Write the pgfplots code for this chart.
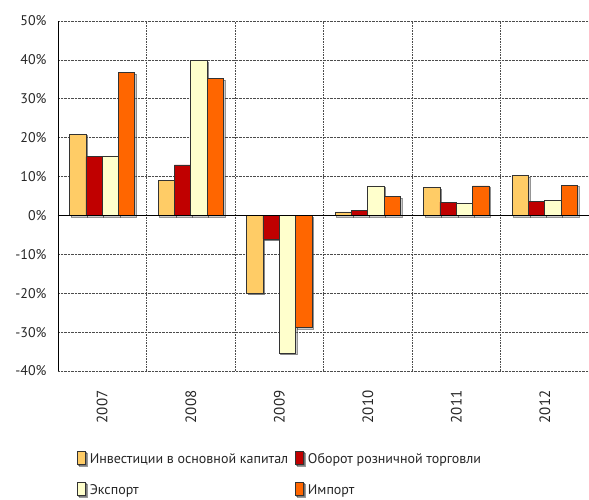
\documentclass[border=0pt]{standalone}
\usepackage{pgfplots}
\pgfplotsset{compat=1.18}
\usepackage{fontspec}
\setmainfont{PT Sans}
\usetikzlibrary{shadows}
\definecolor{cInv}{HTML}{FFCC66}
\definecolor{cRet}{HTML}{C00000}
\definecolor{cExp}{HTML}{FFFFCC}
\definecolor{cImp}{HTML}{FF6600}
\begin{document}
\begin{tikzpicture}
\begin{axis}[
  name=ax,
  scale only axis,
  width=531pt, height=350pt,
  xmin=-0.5, xmax=5.5,
  ymin=-40, ymax=50,
  ytick={-40,-30,...,50},
  yticklabel={\pgfmathprintnumber{\tick}\%},
  /pgf/number format/assume math mode=true,
  xtick={0,...,5},
  xticklabels={2007,2008,2009,2010,2011,2012},
  xticklabel style={rotate=90, anchor=east, font=\fontsize{15}{17}\selectfont},
  xticklabel shift=16pt,
  yticklabel shift=8pt,
  minor xtick={0.5,1.5,...,4.5},
  xminorgrids, ymajorgrids,
  grid style={densely dotted, black!70, line width=0.6pt},
  minor grid style={densely dotted, black!70, line width=0.6pt},
  major tick length=0pt, minor tick length=0pt,
  axis line style={draw=none},
  tick label style={font=\fontsize{14}{16}\selectfont, text=black!85},
  ybar=0pt, bar width=16.3pt,
  every axis plot/.append style={draw=black!80, line width=0.7pt, drop shadow={shadow xshift=1.6pt, shadow yshift=-1.6pt, fill=black!40, opacity=0.5}},
  legend columns=2,
  legend style={at={(0.03,-0.222)}, anchor=north west, draw=none, fill=none,
    font=\fontsize{14}{16}\selectfont, text=black!85,
    /tikz/every even column/.append style={column sep=5pt},
    row sep=15pt},
  legend cell align=left,
  legend image code/.code={\draw[#1, drop shadow={shadow xshift=1pt, shadow yshift=-1pt, fill=black!40}] (0pt,-5pt) rectangle (8pt,8pt);},
  clip=false,
]
\addplot[fill=cInv] coordinates {(0,20.9) (1,9.0) (2,-20.0) (3,0.9) (4,7.2) (5,10.3)};
\addplot[fill=cRet] coordinates {(0,15.1) (1,13.0) (2,-6.1) (3,1.3) (4,3.4) (5,3.7)};
\addplot[fill=cExp] coordinates {(0,15.3) (1,39.9) (2,-35.4) (3,7.6) (4,3.1) (5,3.9)};
\addplot[fill=cImp] coordinates {(0,36.8) (1,35.2) (2,-28.8) (3,4.8) (4,7.6) (5,7.8)};
\legend{\hspace{2pt}Инвестиции в основной капитал, \hspace{2pt}Оборот розничной торговли, \hspace{2pt}Экспорт, \hspace{2pt}Импорт}
\draw[black, line width=0.9pt] (axis cs:-0.5,0) -- (axis cs:5.5,0);
\draw[black, line width=0.9pt] (axis cs:-0.5,-40) -- (axis cs:-0.5,50);
\end{axis}
\pgfresetboundingbox
\path[use as bounding box] ([xshift=-58pt,yshift=-129pt]ax.south west) rectangle ([xshift=0pt,yshift=21pt]ax.north east);
\end{tikzpicture}
\end{document}
